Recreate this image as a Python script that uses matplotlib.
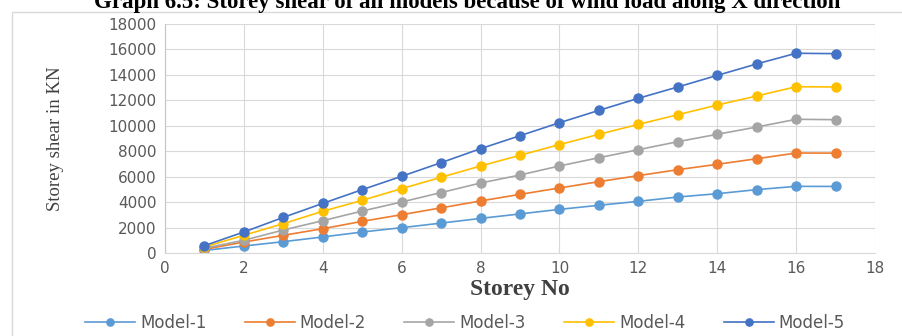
import matplotlib.pyplot as plt
from matplotlib.patches import Rectangle

# Storey shear (kN) per storey
storeys = list(range(1, 18))
model_1 = [200, 550, 890, 1260, 1650, 1990, 2350, 2720, 3070, 3430, 3750, 4060, 4400, 4660, 4980, 5240, 5230]
model_2 = [290, 860, 1390, 1910, 2490, 3010, 3550, 4090, 4610, 5110, 5610, 6080, 6550, 6970, 7410, 7860, 7850]
model_3 = [380, 1000, 1810, 2540, 3300, 4010, 4750, 5500, 6130, 6840, 7490, 8120, 8750, 9330, 9900, 10510, 10480]
model_4 = [480, 1390, 2310, 3280, 4140, 5060, 5950, 6840, 7680, 8520, 9330, 10110, 10870, 11630, 12340, 13070, 13050]
model_5 = [580, 1650, 2800, 3900, 4980, 6030, 7100, 8200, 9220, 10240, 11210, 12160, 13050, 13960, 14860, 15700, 15670]

series = [model_1, model_2, model_3, model_4, model_5]
names = ["Model-1", "Model-2", "Model-3", "Model-4", "Model-5"]
colors = ["#5B9BD5", "#ED7D31", "#A5A5A5", "#FFC000", "#4472C4"]

W, H = 903, 336
fig = plt.figure(figsize=(W / 100, H / 100), dpi=100)

# light chart frame
fig.patches.append(Rectangle((12 / W, -0.05), 1.0, 1 - 12 / H + 0.05,
                             transform=fig.transFigure, fill=False,
                             edgecolor="#d9d9d9", linewidth=1.0))

# caption, clipped by the top edge as in the source
fig.text(467 / W, 1.0 - 8 / H, "Graph 6.5: Storey shear of all models because of wind load along X direction",
         ha="center", va="baseline", fontsize=16.5, fontweight="bold", family="Liberation Serif")

ax = fig.add_axes([165 / W, 1 - 253 / H, (875 - 165) / W, (253 - 24) / H])

for vals, name, c in zip(series, names, colors):
    ax.plot(storeys, vals, color=c, linewidth=1.2, marker="o", markersize=6.5, label=name)

ax.set_xlim(0, 18)
ax.set_ylim(0, 18000)
ax.set_xticks(range(0, 19, 2))
ax.set_yticks(range(0, 18001, 2000))
ax.grid(True, color="#d9d9d9", linewidth=0.8)
ax.set_axisbelow(True)
for s in ["top", "right"]:
    ax.spines[s].set_visible(False)
ax.spines["left"].set_color("#bfc5d2")
ax.spines["bottom"].set_color("#d9d9d9")
ax.tick_params(length=0, labelsize=11, labelcolor="#595959", pad=6)

ax.set_xlabel("Storey No", fontsize=17, fontweight="bold", family="Liberation Serif",
              color="#404040", labelpad=2)
ax.set_ylabel("Storey shear in KN", fontsize=13.5, family="Liberation Serif",
              color="#404040", labelpad=32)

handles, labels = ax.get_legend_handles_labels()
fig.legend(handles, labels, loc="center", bbox_to_anchor=(465 / W, 1 - 323 / H),
           ncol=5, frameon=False, fontsize=12, labelcolor="#595959",
           handlelength=3.0, columnspacing=2.3, handletextpad=0.3, markerscale=0.8)

fig.savefig("out.png", dpi=100)
